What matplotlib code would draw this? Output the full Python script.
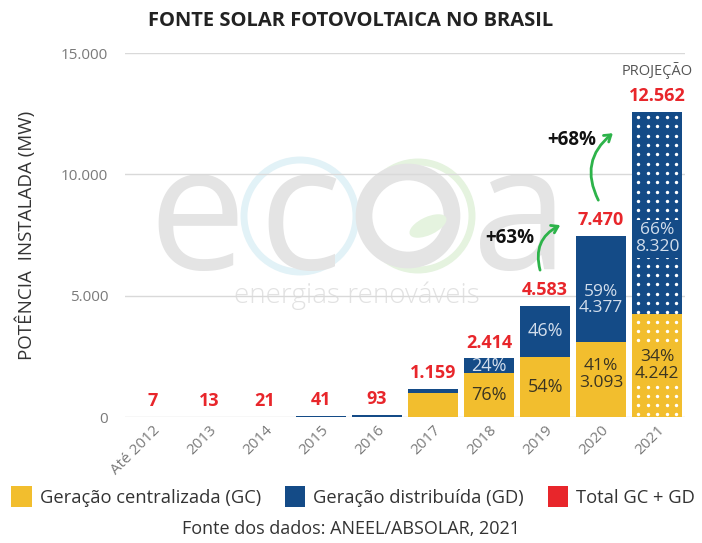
import matplotlib
matplotlib.use("Agg")
import matplotlib.pyplot as plt
from matplotlib.patches import Patch, Circle, Ellipse
import numpy as np

plt.rcParams['font.family'] = ['Open Sans', 'DejaVu Sans']

categories = ["Até 2012", "2013", "2014", "2015", "2016", "2017", "2018", "2019", "2020", "2021"]
gc = [5, 8, 15, 21, 21, 985, 1835, 2475, 3093, 4242]
gd = [2, 5, 6, 20, 72, 174, 579, 2108, 4377, 8320]
totals = [7, 13, 21, 41, 93, 1159, 2414, 4583, 7470, 12562]
yticks = [0, 5000, 10000, 15000]
ytick_labels = ["0", "5.000", "10.000", "15.000"]

YEL = "#F2BE2E"
BLU = "#144B87"
RED = "#E8262B"
GRN = "#2DB34A"

def fmt(v):
    return f"{v:,}".replace(",", ".")

fig = plt.figure(figsize=(7.02, 5.43), dpi=100)
ax = fig.add_axes([0.178, 0.232, 0.798, 0.670])

# watermark (logo), drawn beneath the axes
wm = "#E4E4E4"
H = 543
fig.patches.append(Circle((300, H - 216), 56, transform=None, fill=False, lw=5, ec="#E2F2F7", zorder=-2))
fig.patches.append(Circle((418, H - 216), 54, transform=None, fill=False, lw=5, ec="#E5F3DF", zorder=-2))
fig.patches.append(Circle((408, H - 216), 44, transform=None, fill=False, lw=12, ec=wm, zorder=-2))
fig.patches.append(Ellipse((428, H - 226), 40, 18, angle=25, transform=None, fc="#E5F3DF", ec="none", zorder=-2))
for xc, ch in [(197, "e"), (300, "c"), (520, "a")]:
    fig.text(xc / 702, 0.5875, ch, fontsize=125, color=wm, ha="center", va="center", zorder=-2)
fig.text(0.508, 0.455, "energias renováveis", fontsize=20, fontweight="light", color="#E2E2E2",
         ha="center", va="center", zorder=-2)

x = np.arange(len(categories))
w = 0.9
ax.bar(x, gc, width=w, color=YEL, zorder=3, lw=0)
ax.bar(x, gd, width=w, bottom=gc, color=BLU, zorder=3, lw=0)

# projection dots on the last bar
i = len(categories) - 1
step = 383
ys = np.arange(totals[i] - 200, 0, -step)
offs = np.array([-0.34, -0.17, 0.0, 0.17, 0.34])
XX, YY = np.meshgrid(x[i] + offs, ys)
ax.scatter(XX.ravel(), YY.ravel(), s=6, c="white", lw=0, zorder=4)

ax.set_xlim(-0.5, len(categories) - 0.5)
ax.set_ylim(0, 15000)
ax.set_yticks(yticks)
ax.set_yticklabels(ytick_labels)
ax.grid(axis="y", color="#D9D9D9", lw=1, zorder=1)
ax.set_axisbelow(True)
for s in ax.spines.values():
    s.set_visible(False)
ax.patch.set_alpha(0)
ax.tick_params(axis="y", length=0, pad=12, labelsize=11, labelcolor="#7A7A7A")
ax.tick_params(axis="x", length=0, pad=4, labelsize=11, labelcolor="#7A7A7A")
ax.set_xticks(x)
ax.set_xticklabels(categories, rotation=45, ha="right", rotation_mode="anchor")
ax.set_ylabel("POTÊNCIA  INSTALADA (MW)", fontsize=13.5, color="#333333", labelpad=18)

for k, t in enumerate(totals):
    ax.annotate(fmt(t), (x[k], t), xytext=(0, 5), textcoords="offset points",
                ha="center", va="bottom", color=RED, fontsize=13, fontweight="bold")

ax.annotate("PROJEÇÃO", (x[-1], totals[-1]), xytext=(0, 24), textcoords="offset points",
            ha="center", va="bottom", color="#555555", fontsize=10.5)

light = "#D3DEEC"
dark = "#3B3522"
for k in range(6, len(categories)):
    pg = round(100 * gc[k] / totals[k])
    pd_ = 100 - pg
    if k == 6:
        ax.text(x[k], gc[k] / 2, f"{pg}%", ha="center", va="center", color=dark, fontsize=13, zorder=5)
        ax.text(x[k], gc[k] + gd[k] / 2 - 40, f"{pd_}%", ha="center", va="center", color=light, fontsize=13, zorder=5)
    elif k == 7:
        ax.text(x[k], gc[k] / 2, f"{pg}%", ha="center", va="center", color=dark, fontsize=13, zorder=5)
        ax.text(x[k], gc[k] + gd[k] / 2, f"{pd_}%", ha="center", va="center", color=light, fontsize=13, zorder=5)
    else:
        bb_y = dict(boxstyle="square,pad=0.15", fc=YEL, ec="none") if k == 9 else None
        bb_b = dict(boxstyle="square,pad=0.15", fc=BLU, ec="none") if k == 9 else None
        ygc = gc[k] / 2 + (200 if k == 8 else 0)
        ygd = gc[k] + gd[k] / 2 - (450 if k == 8 else 1050)
        ax.text(x[k], ygc, f"{pg}%\n{fmt(gc[k])}", ha="center", va="center", color=dark,
                fontsize=12.5, linespacing=1.05, zorder=5, bbox=bb_y)
        ax.text(x[k], ygd, f"{pd_}%\n{fmt(gd[k])}", ha="center", va="center", color=light,
                fontsize=12.5, linespacing=1.05, zorder=5, bbox=bb_b)

# growth arrows
arrows = [((6.91, 6057), (7.27, 7911), (6.37, 7375)), ((7.95, 8941), (8.21, 11702), (7.48, 11413))]
for k, (a0, a1, tp) in enumerate(arrows):
    j = 7 + k
    g = round(100 * (totals[j + 1] / totals[j] - 1))
    ax.annotate("", xy=a1, xytext=a0,
                arrowprops=dict(arrowstyle="->,head_length=0.45,head_width=0.3", color=GRN, lw=2,
                                connectionstyle="arc3,rad=-0.4", shrinkA=0, shrinkB=0), zorder=6)
    ax.text(tp[0], tp[1], f"+{g}%", ha="center", va="center", fontsize=13.5, fontweight="bold",
            color="#111111", zorder=6)

fig.text(0.50, 0.962, "FONTE SOLAR FOTOVOLTAICA NO BRASIL", ha="center", va="center",
         fontsize=14.5, fontweight="bold", color="#222222")

handles = [Patch(fc=YEL, label="Geração centralizada (GC)"),
           Patch(fc=BLU, label="Geração distribuída (GD)"),
           Patch(fc=RED, label="Total GC + GD")]
fig.legend(handles=handles, loc="center", bbox_to_anchor=(0.503, 0.085), ncol=3, frameon=False,
           fontsize=13.2, handlelength=1.1, handleheight=1.4, handletextpad=0.45, columnspacing=1.3,
           labelcolor="#333333")

fig.text(0.5, 0.025, "Fonte dos dados: ANEEL/ABSOLAR, 2021", ha="center", va="center",
         fontsize=13, color="#333333")

fig.savefig("out.png", dpi=100)
